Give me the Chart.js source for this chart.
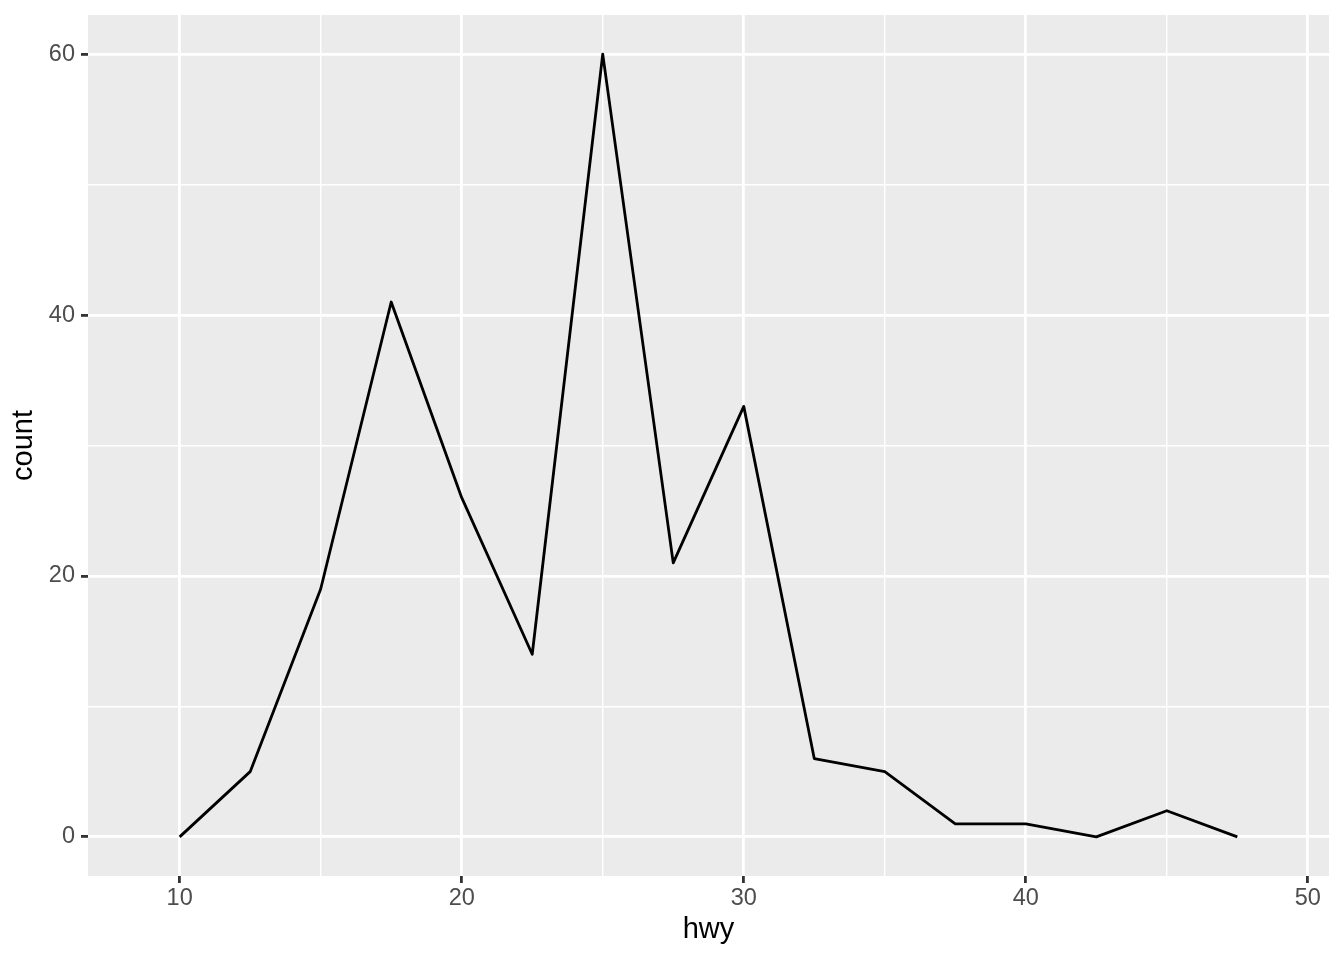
<!DOCTYPE html>
<html>
<head>
<meta charset="utf-8">
<script src="https://cdn.jsdelivr.net/npm/chart.js@4"></script>
<style>
  html, body { margin: 0; padding: 0; background: #ffffff; }
  #freq_chart { display: block; }
</style>
</head>
<body>
<canvas id="freq_chart" width="1344" height="960"></canvas>
<script>
// binned hwy (binwidth 2.5) and counts
const hwy_bins = [10, 12.5, 15, 17.5, 20, 22.5, 25, 27.5, 30, 32.5, 35, 37.5, 40, 42.5, 45, 47.5];
const hwy_counts = [0, 5, 19, 41, 26, 14, 60, 21, 33, 6, 5, 1, 1, 0, 2, 0];

// grid positions: major lines get a label, minor lines only a thin line
const x_grid = [10, 15, 20, 25, 30, 35, 40, 45, 50];
const x_labels = [10, 20, 30, 40, 50];
const y_grid = [0, 10, 20, 30, 40, 50, 60];
const y_labels = [0, 20, 40, 60];

const panel_bg = {
    id: 'panel_bg',
    beforeDraw(chart) {
        const a = chart.chartArea;
        const ctx = chart.ctx;
        ctx.save();
        ctx.fillStyle = '#ebebeb';
        ctx.fillRect(a.left, a.top, a.right - a.left, a.bottom - a.top);
        ctx.restore();
    }
};

function grid_opts(majors) {
    const is_major = (c) => c.tick && majors.includes(c.tick.value);
    return {
        color: '#ffffff',
        lineWidth: (c) => is_major(c) ? 2.8 : 1.4,
        tickColor: (c) => is_major(c) ? '#333333' : 'rgba(0,0,0,0)',
        tickWidth: 2.8,
        tickLength: 7,
        drawOnChartArea: true,
        drawTicks: true
    };
}

// fixed axis sizes, no extra label padding pushed into the layout
function fix_y(scale) {
    scale.width = 88;
    scale.paddingTop = 0;
    scale.paddingBottom = 0;
}
function fix_x(scale) {
    scale.height = 84;
    scale.paddingLeft = 0;
    scale.paddingRight = 0;
}

const ctx = document.querySelector('#freq_chart').getContext('2d');
let chart = new Chart(ctx, {
    type: 'line',
    data: {
        datasets: [{
            data: hwy_bins.map((x, i) => ({ x: x, y: hwy_counts[i] })),
            borderColor: '#000000',
            borderWidth: 2.8,
            pointRadius: 0,
            tension: 0,
            fill: false,
            borderJoinStyle: 'round'
        }]
    },
    options: {
        responsive: false,
        animation: false,
        devicePixelRatio: 1,
        layout: { padding: { top: 15, right: 15, left: 0, bottom: 0 } },
        plugins: {
            legend: { display: false },
            tooltip: { enabled: false }
        },
        scales: {
            x: {
                type: 'linear',
                min: 6.75,
                max: 50.75,
                border: { display: false },
                grid: grid_opts(x_labels),
                afterBuildTicks: (scale) => { scale.ticks = x_grid.map(v => ({ value: v })); },
                afterFit: fix_x,
                ticks: {
                    autoSkip: false,
                    maxRotation: 0,
                    padding: 1.5,
                    color: '#4d4d4d',
                    font: { family: 'Liberation Sans', size: 23.5, lineHeight: 1.2 },
                    callback: (v) => x_labels.includes(v) ? String(v) : ''
                },
                title: {
                    display: true,
                    text: 'hwy',
                    color: '#000000',
                    font: { family: 'Liberation Sans', size: 29, lineHeight: 1.2 },
                    padding: { top: 0, bottom: 12.6 }
                }
            },
            y: {
                type: 'linear',
                min: -3,
                max: 63,
                border: { display: false },
                grid: grid_opts(y_labels),
                afterBuildTicks: (scale) => { scale.ticks = y_grid.map(v => ({ value: v })); },
                afterFit: fix_y,
                ticks: {
                    autoSkip: false,
                    padding: 6,
                    color: '#4d4d4d',
                    font: { family: 'Liberation Sans', size: 23.5, lineHeight: 1.2 },
                    callback: (v) => y_labels.includes(v) ? String(v) : ''
                },
                title: {
                    display: true,
                    text: 'count',
                    color: '#000000',
                    font: { family: 'Liberation Sans', size: 29, lineHeight: 1.2 },
                    padding: { top: 6.6, bottom: 0 }
                }
            }
        }
    },
    plugins: [panel_bg]
});
</script>
</body>
</html>
